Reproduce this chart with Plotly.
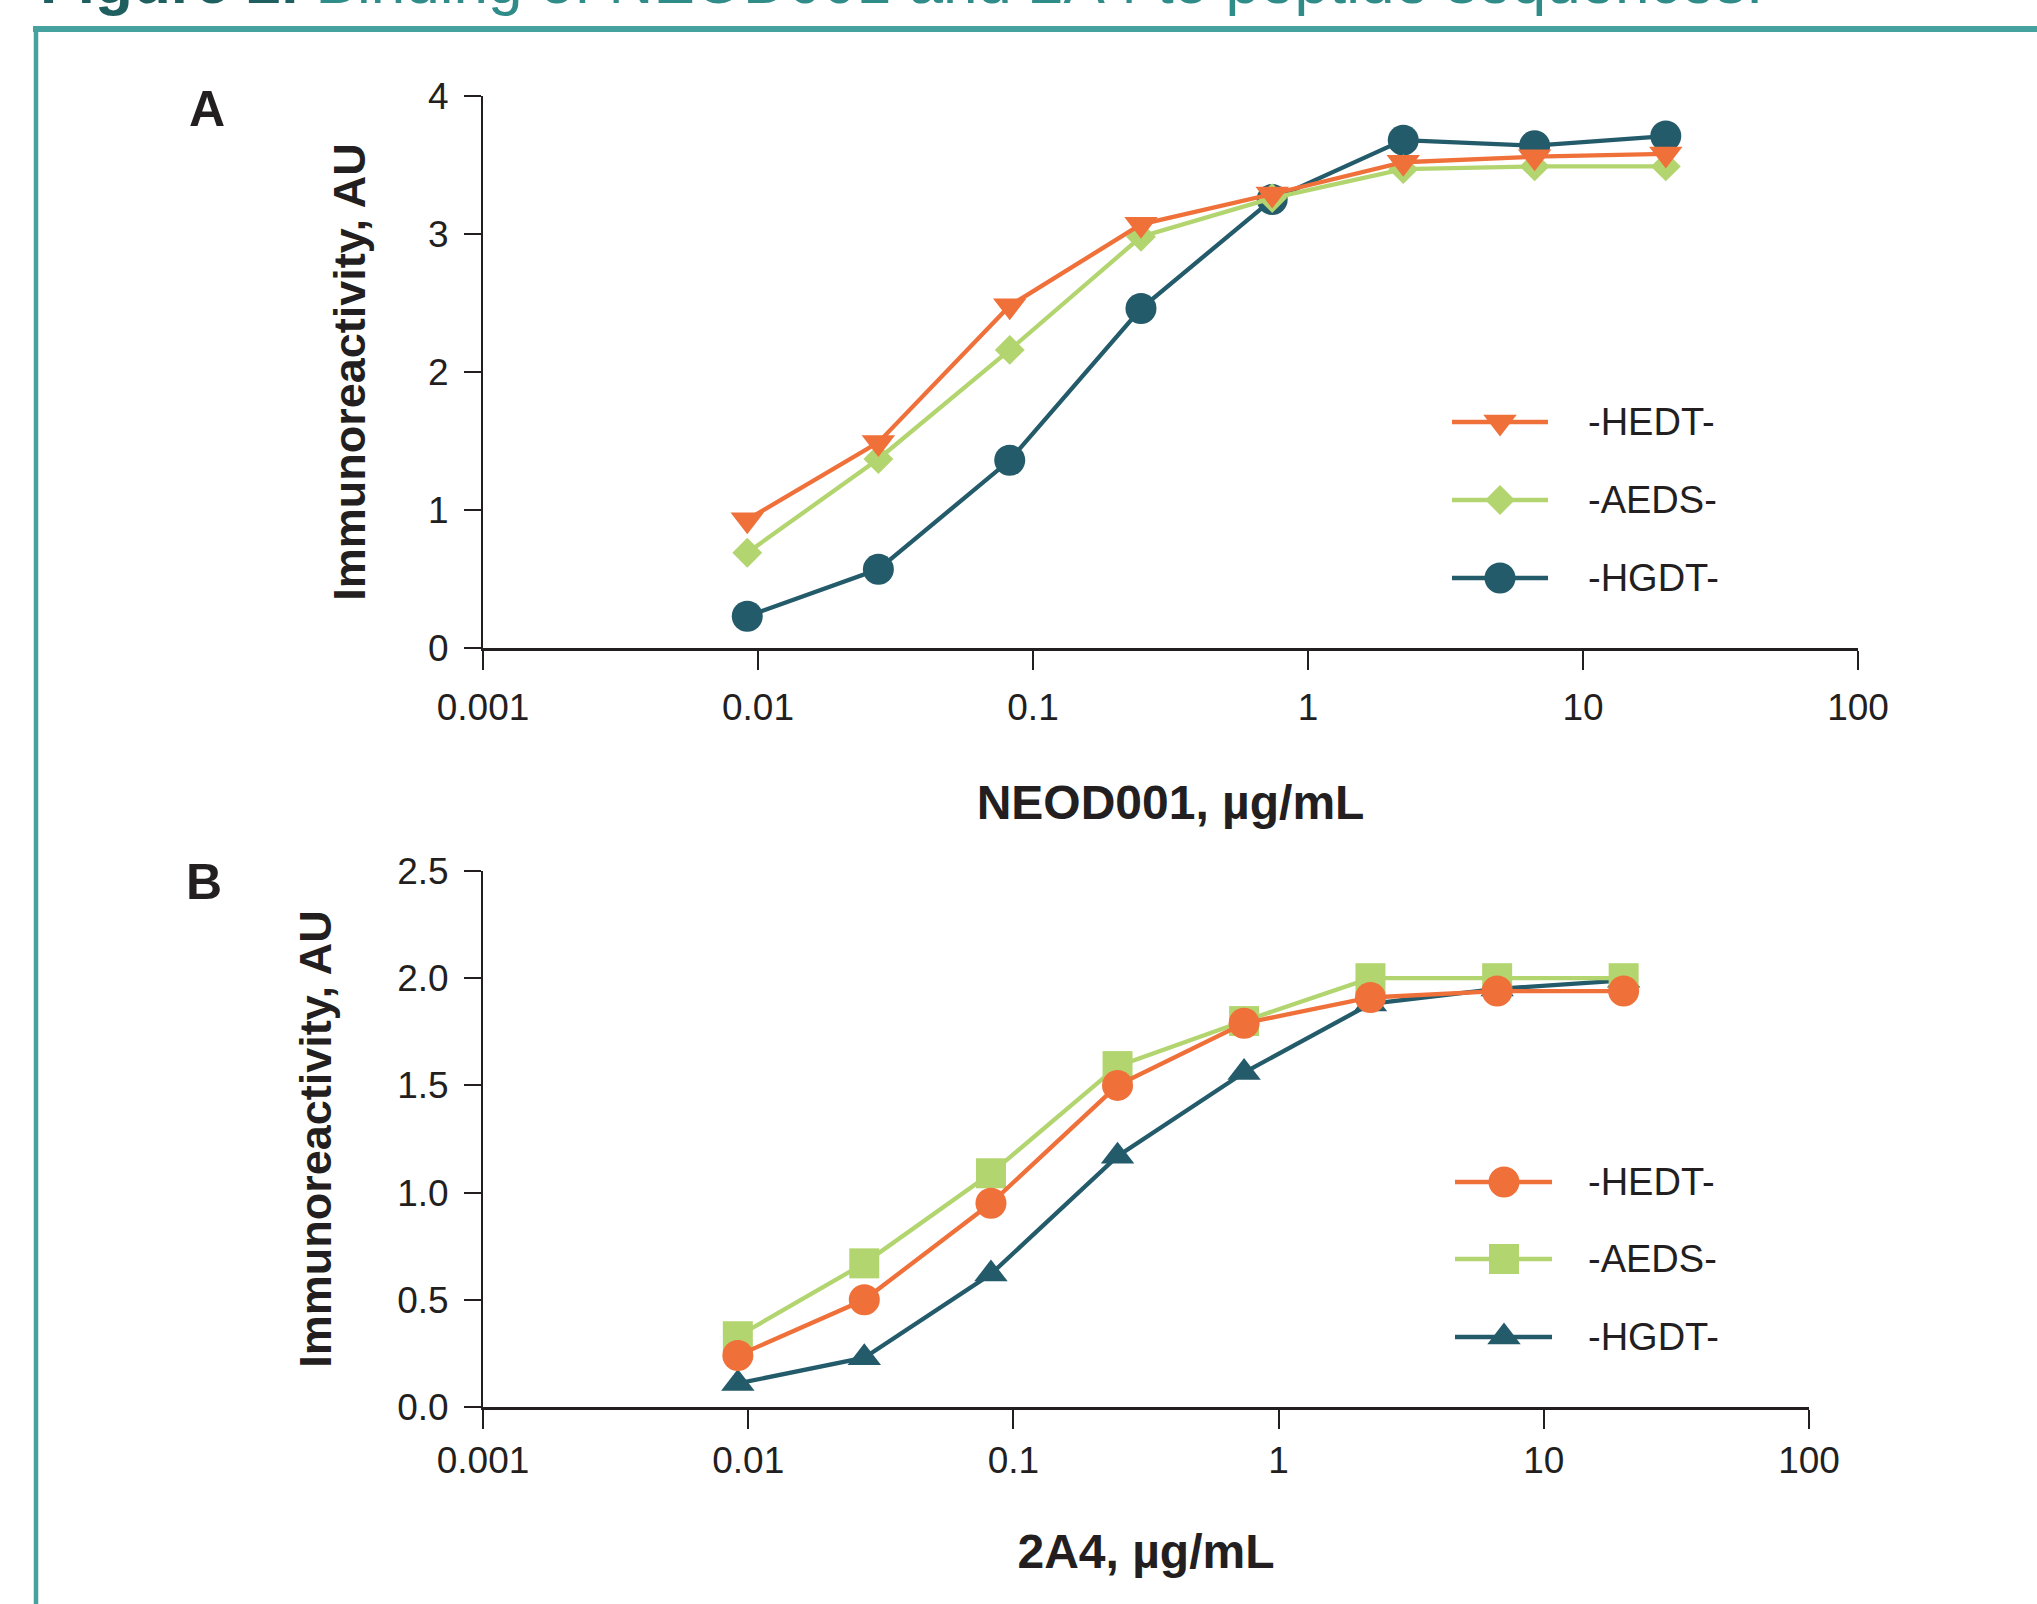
import plotly.graph_objects as go

W, H = 2037, 1604

# ---------------- data ----------------
conc = [0.00914, 0.0274, 0.0823, 0.247, 0.741, 2.22, 6.67, 20.0]

A_HEDT = [0.93, 1.49, 2.48, 3.07, 3.29, 3.52, 3.56, 3.58]
A_AEDS = [0.69, 1.37, 2.16, 2.98, 3.26, 3.47, 3.49, 3.49]
A_HGDT = [0.23, 0.57, 1.36, 2.46, 3.25, 3.68, 3.64, 3.71]

B_HEDT = [0.24, 0.50, 0.95, 1.50, 1.79, 1.91, 1.94, 1.94]
B_AEDS = [0.33, 0.67, 1.09, 1.59, 1.80, 2.00, 2.00, 2.00]
B_HGDT = [0.11, 0.23, 0.62, 1.17, 1.56, 1.88, 1.95, 1.99]

series_names = ["-HEDT-", "-AEDS-", "-HGDT-"]
x_tickvals = [0.001, 0.01, 0.1, 1, 10, 100]
x_ticktext = ["0.001", "0.01", "0.1", "1", "10", "100"]
yA_ticks = [0, 1, 2, 3, 4]
yA_text = ["0", "1", "2", "3", "4"]
yB_ticks = [0, 0.5, 1.0, 1.5, 2.0, 2.5]
yB_text = ["0.0", "0.5", "1.0", "1.5", "2.0", "2.5"]

# ---------------- styles ----------------
ORANGE = "#F0703A"
GREEN = "#B3D56F"
DARK = "#245B6A"
INK = "#231F20"
TEAL = "#46A29F"
FONT = "Liberation Sans, Arial, Helvetica, sans-serif"


def fx(p):
    return p / W


def fy(p):
    return 1 - p / H


fig = go.Figure()

panelA = [
    ("-HGDT-", A_HGDT, DARK, "circle", 31),
    ("-AEDS-", A_AEDS, GREEN, "diamond", 23),
    ("-HEDT-", A_HEDT, ORANGE, "triangle-down", 29),
]
panelB = [
    ("-HGDT-", B_HGDT, DARK, "triangle-up", 29),
    ("-AEDS-", B_AEDS, GREEN, "square", 30),
    ("-HEDT-", B_HEDT, ORANGE, "circle", 31),
]

for name, vals, col, sym, size in panelA:
    fig.add_trace(go.Scatter(
        x=conc, y=vals, mode="lines+markers", name=name,
        line=dict(color=col, width=4.3),
        marker=dict(symbol=sym, size=size, color=col, line=dict(width=0)),
        xaxis="x", yaxis="y", showlegend=False, cliponaxis=False))

for name, vals, col, sym, size in panelB:
    fig.add_trace(go.Scatter(
        x=conc, y=vals, mode="lines+markers", name=name,
        line=dict(color=col, width=4.3),
        marker=dict(symbol=sym, size=size, color=col, line=dict(width=0)),
        xaxis="x2", yaxis="y2", showlegend=False, cliponaxis=False))

# ---------------- custom legends (pixel axes) ----------------
legend_items = {
    "A": [("-HEDT-", ORANGE, "triangle-down", 29),
          ("-AEDS-", GREEN, "diamond", 23),
          ("-HGDT-", DARK, "circle", 31)],
    "B": [("-HEDT-", ORANGE, "circle", 31),
          ("-AEDS-", GREEN, "square", 30),
          ("-HGDT-", DARK, "triangle-up", 29)],
}
legend_geom = {
    "A": dict(x0=1452, x1=1548, xm=1500, ys=[422, 500, 578]),
    "B": dict(x0=1455, x1=1552, xm=1504, ys=[1182, 1259, 1337]),
}
annotations = []
for key in ["A", "B"]:
    g = legend_geom[key]
    for (name, col, sym, size), yy in zip(legend_items[key], g["ys"]):
        fig.add_trace(go.Scatter(
            x=[g["x0"], g["x1"]], y=[yy, yy], mode="lines",
            line=dict(color=col, width=4.3), xaxis="x3", yaxis="y3",
            showlegend=False, hoverinfo="skip"))
        fig.add_trace(go.Scatter(
            x=[g["xm"]], y=[yy], mode="markers",
            marker=dict(symbol=sym, size=size, color=col, line=dict(width=0)),
            xaxis="x3", yaxis="y3", showlegend=False, hoverinfo="skip"))
        annotations.append(dict(
            x=fx(1586), y=fy(yy), xref="paper", yref="paper",
            xanchor="left", yanchor="middle", showarrow=False, text=name,
            font=dict(family=FONT, size=38, color=INK)))

# panel letters
annotations.append(dict(x=fx(207), y=fy(109), xref="paper", yref="paper",
                        text="<b>A</b>", showarrow=False, xanchor="center",
                        yanchor="middle", font=dict(family=FONT, size=50, color=INK)))
annotations.append(dict(x=fx(204), y=fy(882), xref="paper", yref="paper",
                        text="<b>B</b>", showarrow=False, xanchor="center",
                        yanchor="middle", font=dict(family=FONT, size=50, color=INK)))

# figure title at top (cut off by the page edge, as in the reference)
annotations.append(dict(
    x=fx(38), y=fy(18), xref="paper", yref="paper", xanchor="left",
    yanchor="bottom", showarrow=False,
    text=("<span style='color:#1F5F60'><b>Figure 2.</b></span>"
          "<span style='color:#2F8C89'> Binding of NEOD001 and 2A4 to peptide sequences.</span>"),
    font=dict(family=FONT, size=62, color="#2F8C89")))

shapes = [
    dict(type="line", xref="paper", yref="paper", x0=fx(33), x1=1, y0=fy(29), y1=fy(29),
         line=dict(color=TEAL, width=6)),
    dict(type="line", xref="paper", yref="paper", x0=fx(36), x1=fx(36), y0=fy(26), y1=0,
         line=dict(color=TEAL, width=4.5)),
]

axis_common = dict(showline=True, linecolor=INK, ticks="outside", tickcolor=INK,
                   tickwidth=2, showgrid=False, zeroline=False, automargin=False,
                   tickfont=dict(family=FONT, size=37, color=INK))

fig.update_layout(
    width=W, height=H, template="none",
    margin=dict(l=0, r=0, t=0, b=0),
    paper_bgcolor="white", plot_bgcolor="rgba(0,0,0,0)",
    showlegend=False,
    xaxis=dict(**axis_common, type="log", range=[-3, 2],
               domain=[fx(483), fx(1858)], anchor="y", linewidth=3, ticklen=19,
               tickvals=x_tickvals, ticktext=x_ticktext, ticklabelstandoff=6,
               title=dict(text="<b>NEOD001, µg/mL</b>", standoff=58,
                          font=dict(family=FONT, size=48, color=INK))),
    yaxis=dict(**axis_common, range=[0, 4], domain=[fy(648), fy(96)], anchor="x",
               linewidth=2, ticklen=17, tickvals=yA_ticks, ticktext=yA_text,
               ticklabelstandoff=8,
               title=dict(text="<b>Immunoreactivity, AU</b>", standoff=48,
                          font=dict(family=FONT, size=45, color=INK))),
    xaxis2=dict(**axis_common, type="log", range=[-3, 2],
                domain=[fx(483), fx(1809)], anchor="y2", linewidth=3, ticklen=19,
                tickvals=x_tickvals, ticktext=x_ticktext, ticklabelstandoff=0,
                title=dict(text="<b>2A4, µg/mL</b>", standoff=54,
                           font=dict(family=FONT, size=48, color=INK))),
    yaxis2=dict(**axis_common, range=[0, 2.5], domain=[fy(1407), fy(871)], anchor="x2",
                linewidth=2, ticklen=17, tickvals=yB_ticks, ticktext=yB_text,
                ticklabelstandoff=8,
                title=dict(text="<b>Immunoreactivity, AU</b>", standoff=51,
                           font=dict(family=FONT, size=45, color=INK))),
    xaxis3=dict(range=[0, W], domain=[0, 1], anchor="y3", visible=False,
                fixedrange=True),
    yaxis3=dict(range=[H, 0], domain=[0, 1], anchor="x3", visible=False,
                fixedrange=True),
    annotations=annotations,
    shapes=shapes,
)

fig.write_html(
    "out.html",
    config={"displayModeBar": False},
    post_script="document.body.style.margin='0';document.body.style.overflow='hidden';",
)
